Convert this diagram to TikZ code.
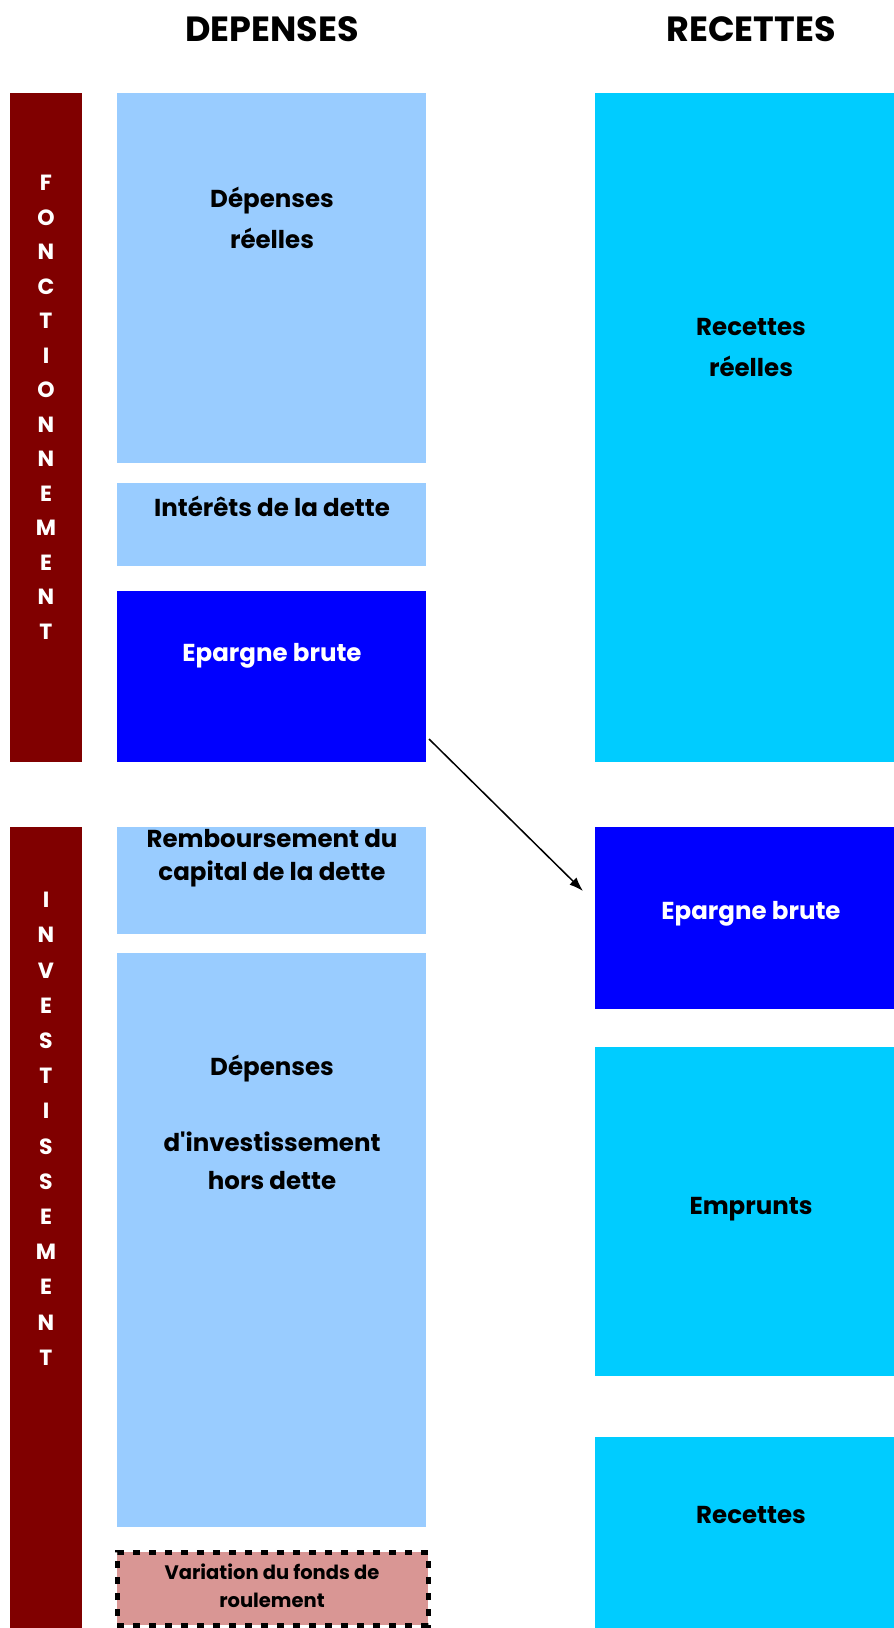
\documentclass[tikz,border=0pt]{standalone}
\usepackage{fontspec}
\setmainfont{Poppins}[Ligatures=TeXOff]
\usetikzlibrary{arrows.meta}
\definecolor{bordeaux}{HTML}{800000}
\definecolor{bleuclair}{HTML}{99CCFF}
\definecolor{cyanvif}{HTML}{00CCFF}
\definecolor{bleuvif}{HTML}{0000FF}
\definecolor{rosefdr}{HTML}{D99694}
\tikzset{
  bloc/.style={rectangle,inner sep=0pt,outer sep=0pt,anchor=north west},
  txt/.style={font=\bfseries\fontsize{24.5}{41}\selectfont,align=center,inner sep=0pt},
  titre/.style={font=\bfseries\fontsize{35}{40}\selectfont,inner sep=0pt},
  lettre/.style={font=\bfseries\fontsize{22}{24}\selectfont,text=white,inner sep=0pt},
}
\begin{document}
\begin{tikzpicture}[x=1pt,y=-1pt]
  \useasboundingbox (0,0) rectangle (894,1628);
  \node[titre] (T1) at (272,29) {DEPENSES};
  \node[titre] (T2) at (751,29) {RECETTES};
  % colonnes fonctionnement / investissement
  \node[bloc,fill=bordeaux,minimum width=72pt,minimum height=669pt] (F) at (10,93) {};
  \node[bloc,fill=bordeaux,minimum width=72pt,minimum height=801pt] (I) at (10,827) {};
  \foreach \l [count=\i] in {F,O,N,C,T,I,O,N,N,E,M,E,N,T}
    \node[lettre] (f\i) at (46,{183+34.5*(\i-1)}) {\l};
  \foreach \l [count=\i] in {I,N,V,E,S,T,I,S,S,E,M,E,N,T}
    \node[lettre] (i\i) at (46,{900+35.2*(\i-1)}) {\l};
  % depenses
  \node[bloc,fill=bleuclair,minimum width=309pt,minimum height=370pt] (D1) at (117,93) {};
  \node[bloc,fill=bleuclair,minimum width=309pt,minimum height=83pt] (D2) at (117,483) {};
  \node[bloc,fill=bleuvif,minimum width=309pt,minimum height=171pt] (D3) at (117,591) {};
  \node[bloc,fill=bleuclair,minimum width=309pt,minimum height=107pt] (D4) at (117,827) {};
  \node[bloc,fill=bleuclair,minimum width=309pt,minimum height=574pt] (D5) at (117,953) {};
  \node[bloc,fill=rosefdr,draw=black,line width=5pt,dash pattern=on 7pt off 9pt,
        minimum width=311pt,minimum height=73pt] (D6) at (117,1552) {};
  % recettes
  \node[bloc,fill=cyanvif,minimum width=299pt,minimum height=669pt] (R1) at (595,93) {};
  \node[bloc,fill=bleuvif,minimum width=299pt,minimum height=182pt] (R2) at (595,827) {};
  \node[bloc,fill=cyanvif,minimum width=299pt,minimum height=329pt] (R3) at (595,1047) {};
  \node[bloc,fill=cyanvif,minimum width=299pt,minimum height=191pt] (R4) at (595,1437) {};
  % textes
  \node[txt] (d1) at (272,218) {Dépenses\\réelles};
  \node[txt] (d2) at (272,506) {Intérêts de la dette};
  \node[txt,text=white] (d3) at (272,656) {Epargne brute};
  \node[txt,font=\bfseries\fontsize{24.5}{33}\selectfont] (d4) at (272,858) {Remboursement du\\capital de la dette};
  \node[txt,font=\bfseries\fontsize{24.5}{38}\selectfont] (d5) at (272,1122) {Dépenses\\ \\d'investissement\\hors dette};
  \node[txt,font=\bfseries\fontsize{19.5}{28}\selectfont] (d6) at (272,1586) {Variation du fonds de\\roulement};
  \node[txt] (r1) at (751,347) {Recettes\\réelles};
  \node[txt,text=white] (r2) at (751,914) {Epargne brute};
  \node[txt] (r3) at (751,1209) {Emprunts};
  \node[txt] (r4) at (751,1515) {Recettes};
  % fleche epargne
  \coordinate (a1) at ([xshift=3pt,yshift=23pt]D3.south east);
  \coordinate (a2) at ([xshift=-12pt,yshift=-64pt]R2.north west);
  \draw[line width=1.5pt,-{Latex[length=14pt,width=10pt]}] (a1) -- (a2);
\end{tikzpicture}
\end{document}
